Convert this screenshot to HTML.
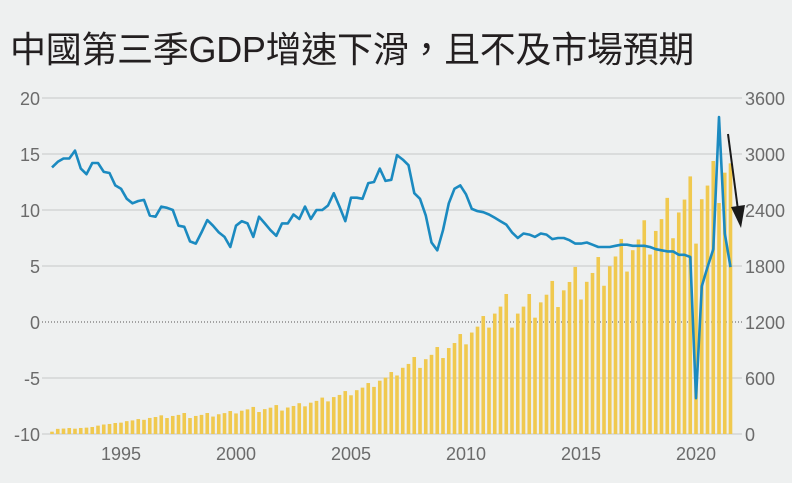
<!DOCTYPE html>
<html><head><meta charset="utf-8">
<style>
html,body{margin:0;padding:0;background:#eef0f0;}
body{width:792px;height:483px;overflow:hidden;position:relative;}
.t{position:absolute;left:10px;top:21px;font-family:"Liberation Sans","Noto Sans CJK TC",sans-serif;font-size:36px;color:#231f20;letter-spacing:-0.3px;white-space:nowrap;}
svg{position:absolute;left:0;top:0;}
text{font-family:"Liberation Sans",sans-serif;font-size:18px;fill:#6b6b6b;}
</style></head><body>
<div class="t">中國第三季GDP增速下滑，且不及市場預期</div>
<svg id="s" width="792" height="483" viewBox="0 0 792 483"></svg>
<script>
var s=document.getElementById('s'),h='';
function Y(v){return 322-v*11.2;}
function YR(v){return 434-v*336/3600;}
function X(i){return 121+(i-12)*5.75;}
[20,15,10,5,-5,-10].forEach(function(v){h+='<line x1="42" x2="742" y1="'+Y(v)+'" y2="'+Y(v)+'" stroke="#c6c8c8" stroke-width="1"/>';});
h+='<line x1="42" x2="742" y1="322" y2="322" stroke="#555" stroke-width="1" stroke-dasharray="1,2"/>';
[20,15,10,5,0,-5,-10].forEach(function(v){h+='<text x="40" y="'+(Y(v)+7)+'" text-anchor="end">'+v+'</text>';});
[3600,3000,2400,1800,1200,600,0].forEach(function(v){h+='<text x="745" y="'+(YR(v)+7)+'">'+v+'</text>';});
[1995,2000,2005,2010,2015,2020].forEach(function(y){h+='<text x="'+X((y-1992)*4)+'" y="460" text-anchor="middle">'+y+'</text>';});
var q4=[64,75,118,160,200,225,225,246,290,310,330,390,460,546,664,825,932,1071,1264,1500,1500,1640,1790,1896,2090,2290,2530,2760,2925];
var sf=[0.76,0.86,0.91,1];
for(var i=0;i<119;i++){var yr=Math.floor(i/4),q=i%4,v;
 if(yr==29){v=[2475,2800,2900][q];}
 else if(yr==28 && q==0){v=2040;}
 else v=q4[yr]*sf[q];
 if(i==0)v=25;
 h+='<rect x="'+(X(i)-1.8)+'" y="'+YR(v)+'" width="3.6" height="'+(434-YR(v))+'" fill="#f0c94f"/>';}
var g=[13.8,14.3,14.6,14.6, 15.3,13.7,13.2,14.2, 14.2,13.4,13.3,12.2, 11.9,11.0,10.6,10.8, 10.9,9.5,9.4,10.3, 10.2,10.0,8.6,8.5, 7.2,7.0,8.0,9.1, 8.6,8.0,7.6,6.7, 8.6,9.0,8.8,7.6, 9.4,8.8,8.2,7.7, 8.8,8.8,9.6,9.2, 10.3,9.2,10.0,10.0, 10.4,11.5,10.3,9.0, 11.1,11.1,11.0,12.4, 12.5,13.7,12.6,12.7, 14.9,14.5,14.0,11.5, 11.0,9.5,7.1,6.4, 8.2,10.6,11.9,12.2, 11.4,10.1,9.9,9.8, 9.6,9.3,9.0,8.7, 8.0,7.5,7.9,7.8, 7.6,7.9,7.8,7.4, 7.5,7.5,7.3,7.0, 7.0,7.1,6.9,6.7, 6.7,6.7,6.8,6.9, 6.9,6.8,6.8,6.8, 6.7,6.5,6.4,6.3, 6.3,6.0,6.0,5.8, -6.8,3.2,4.9,6.5, 18.3,7.9,4.9];
var p=g.map(function(v,i){return X(i).toFixed(1)+','+Y(v).toFixed(1);}).join(' ');
h+='<polyline points="'+p+'" fill="none" stroke="#1b8ac0" stroke-width="2.6" stroke-linejoin="round"/>';
h+='<line x1="728" y1="134" x2="738" y2="210" stroke="#1a1a1a" stroke-width="2"/>';
h+='<polygon points="731,207 745,205 741,228" fill="#1a1a1a"/>';
s.innerHTML=h;
</script>
</body></html>
